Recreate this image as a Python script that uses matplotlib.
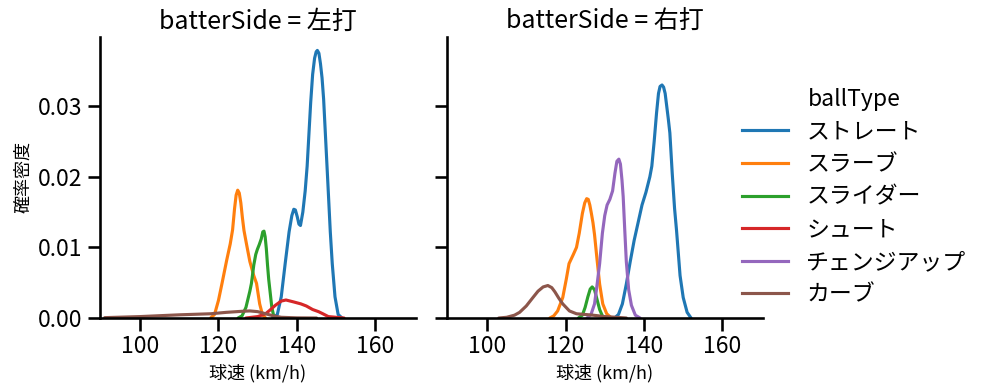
import matplotlib
matplotlib.use("Agg")
import matplotlib.pyplot as plt
from matplotlib.lines import Line2D

plt.rcParams['font.family'] = ['Noto Sans CJK JP', 'DejaVu Sans']

ball_types = ["ストレート", "スラーブ", "スライダー", "シュート", "チェンジアップ", "カーブ"]
colors = ["#1f77b4", "#ff7f0e", "#2ca02c", "#d62728", "#9467bd", "#8c564b"]
sides = ["左打", "右打"]

# density curves: speed (km/h) -> density
# --- 左打 ---
l_straight_x = [133.8, 135, 136, 137, 138, 138.7, 139.2, 139.6, 140.1, 140.5, 140.9, 141.5, 142.1, 142.6, 143.1, 143.5, 144, 144.5, 144.9, 145.2, 145.6, 146, 146.4, 146.8, 147.3, 147.8, 148.5, 149, 149.7, 150.5, 151.5]
l_straight_y = [0, 0.0005, 0.003, 0.0077, 0.0122, 0.0145, 0.0154, 0.0153, 0.0143, 0.0133, 0.0131, 0.0150, 0.0180, 0.0215, 0.0265, 0.0305, 0.0345, 0.0368, 0.0377, 0.0379, 0.0375, 0.0360, 0.0340, 0.0310, 0.0255, 0.0200, 0.0122, 0.0077, 0.0030, 0.0005, 0]
l_slurve_x = [118, 119, 120, 120.9, 122.1, 123, 123.6, 124.1, 124.5, 124.9, 125.3, 125.7, 126.1, 126.5, 127.1, 128, 129, 129.7, 130.5, 131.2, 132]
l_slurve_y = [0, 0.0005, 0.0025, 0.0049, 0.0082, 0.0105, 0.0125, 0.0155, 0.0174, 0.0181, 0.0177, 0.0163, 0.0142, 0.0124, 0.0106, 0.0080, 0.0060, 0.0049, 0.0020, 0.0005, 0]
l_slider_x = [125, 126, 127, 128, 128.4, 129, 129.5, 129.9, 130.4, 130.9, 131.3, 131.6, 131.9, 132.2, 132.5, 132.8, 133.1, 133.6, 134.2]
l_slider_y = [0, 0.0003, 0.0015, 0.0038, 0.0049, 0.0075, 0.0090, 0.0097, 0.0104, 0.0112, 0.0122, 0.0123, 0.0115, 0.0098, 0.0075, 0.0055, 0.0040, 0.0015, 0]
l_shoot_x = [127, 130, 132, 133.1, 134.5, 136, 137.2, 139, 141, 142.4, 144, 145.5, 146.6, 148, 150, 152]
l_shoot_y = [0, 0.0002, 0.0006, 0.0011, 0.0018, 0.0024, 0.00255, 0.0023, 0.0020, 0.0017, 0.0012, 0.0009, 0.0006, 0.0002, 0.0001, 0]
l_change_x = []
l_change_y = []
l_curve_x = [91, 100, 110, 118, 122, 126, 128, 130, 132, 134, 136, 140, 145]
l_curve_y = [0.00005, 0.0002, 0.00045, 0.0006, 0.0008, 0.00095, 0.0010, 0.0009, 0.0006, 0.0003, 0.0001, 0.00002, 0]

# --- 右打 ---
r_straight_x = [132.5, 133.5, 134.5, 135.5, 136.5, 137.5, 138.5, 139.5, 140.5, 141.5, 142, 142.6, 143.2, 143.7, 144.1, 144.6, 145, 145.4, 145.8, 146.2, 146.6, 147.2, 147.8, 148.3, 149.2, 150, 151, 152]
r_straight_y = [0, 0.0005, 0.002, 0.0048, 0.008, 0.011, 0.0135, 0.0160, 0.0178, 0.0200, 0.0215, 0.0250, 0.0290, 0.0318, 0.0328, 0.0330, 0.0327, 0.0318, 0.0300, 0.0282, 0.0262, 0.0205, 0.0155, 0.0124, 0.0060, 0.0029, 0.0008, 0]
r_slurve_x = [116, 117, 118, 119.3, 120.2, 120.9, 122, 122.8, 123.5, 124.3, 124.9, 125.4, 125.8, 126.2, 126.6, 127, 127.4, 128, 128.7, 129.5, 130.5, 131.7]
r_slurve_y = [0, 0.0003, 0.001, 0.0029, 0.0055, 0.0077, 0.0090, 0.0100, 0.0120, 0.0148, 0.0163, 0.0169, 0.0168, 0.0160, 0.0148, 0.0135, 0.0118, 0.0085, 0.0048, 0.0020, 0.0006, 0]
r_slider_x = [123.3, 124.3, 125, 125.7, 126.3, 126.8, 127.4, 128, 128.7, 129.4, 130.3]
r_slider_y = [0, 0.0004, 0.0015, 0.0030, 0.0041, 0.0044, 0.0040, 0.0027, 0.0012, 0.0003, 0]
r_shoot_x = []
r_shoot_y = []
r_change_x = [125.5, 126.5, 127.4, 128, 128.7, 129.4, 130, 130.6, 131.3, 132, 132.6, 133.1, 133.6, 134, 134.4, 134.7, 135.1, 135.5, 136.1, 136.8, 137.8, 139]
r_change_y = [0, 0.0005, 0.002, 0.0045, 0.0077, 0.0120, 0.0145, 0.0160, 0.0168, 0.0180, 0.0205, 0.0222, 0.0225, 0.0218, 0.0195, 0.0172, 0.0125, 0.0080, 0.0040, 0.0018, 0.0004, 0]
r_curve_x = [103, 105, 107, 108.3, 110, 111.7, 113, 114.3, 115.5, 116.5, 117.3, 118.3, 119.3, 121, 122.8, 125, 127, 130, 133, 135.5]
r_curve_y = [0, 0.0001, 0.0004, 0.0008, 0.0017, 0.0029, 0.0038, 0.0044, 0.0046, 0.0043, 0.0037, 0.0028, 0.0020, 0.0010, 0.0006, 0.0005, 0.0004, 0.0002, 0.0001, 0]

curves = {
    "左打": [(l_straight_x, l_straight_y), (l_slurve_x, l_slurve_y), (l_slider_x, l_slider_y),
             (l_shoot_x, l_shoot_y), (l_change_x, l_change_y), (l_curve_x, l_curve_y)],
    "右打": [(r_straight_x, r_straight_y), (r_slurve_x, r_slurve_y), (r_slider_x, r_slider_y),
             (r_shoot_x, r_shoot_y), (r_change_x, r_change_y), (r_curve_x, r_curve_y)],
}

fig = plt.figure(figsize=(9.87, 3.91), dpi=100)
ax1 = fig.add_axes([0.1013, 0.1867, 0.320, 0.7187])
ax2 = fig.add_axes([0.4529, 0.1867, 0.320, 0.7187], sharey=ax1, sharex=ax1)

lw = 2.25
for ax, side in zip([ax1, ax2], sides):
    for (xs, ys), c in zip(curves[side], colors):
        if xs:
            ax.plot(xs, ys, color=c, lw=lw, solid_capstyle="round", solid_joinstyle="round")
    ax.set_title(f"batterSide = {side}", fontsize=18)
    ax.set_xlabel("球速 (km/h)", fontsize=13)
    for s in ["top", "right"]:
        ax.spines[s].set_visible(False)
    for s in ["left", "bottom"]:
        ax.spines[s].set_linewidth(1.875)
    ax.tick_params(width=1.875, length=9, labelsize=16.5)

ax1.set_xlim(89.8, 170.3)
ax1.set_ylim(0, 0.0398)
ax1.set_xticks([100, 120, 140, 160])
ax1.set_yticks([0, 0.01, 0.02, 0.03])
ax1.set_yticklabels(["0.00", "0.01", "0.02", "0.03"])
ax1.set_ylabel("確率密度", fontsize=13)
ax2.tick_params(labelleft=False)

handles = [Line2D([], [], color=c, lw=lw) for c in colors]
fig.legend(handles, ball_types, title="ballType", loc="center left",
           bbox_to_anchor=(0.731, 0.496), frameon=False, fontsize=16.5,
           title_fontsize=16.5, handlelength=2.0, handletextpad=0.8, labelspacing=0.42)

fig.savefig("out.png", dpi=100)
